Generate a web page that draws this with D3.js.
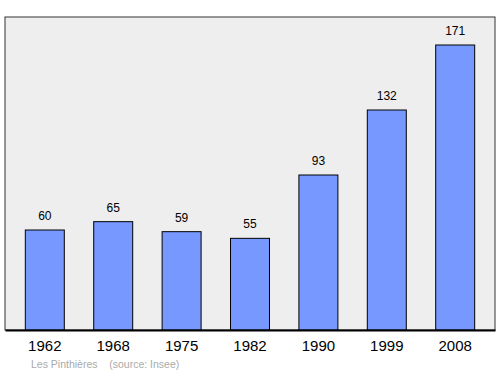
<!DOCTYPE html>
<html>
<head>
<meta charset="utf-8">
<script src="https://cdn.jsdelivr.net/npm/d3@7"></script>
<style>
  body { margin: 0; background: #fff; }
  text { font-family: "Liberation Sans", Arial, sans-serif; }
</style>
</head>
<body>
<div id="chart"></div>
<script>
const years = ["1962", "1968", "1975", "1982", "1990", "1999", "2008"];
const population = [60, 65, 59, 55, 93, 132, 171];
const commune = "Les Pinthières";
const source = "(source: Insee)";

const width = 500, height = 374;
const plot = { left: 5, right: 495, top: 17, bottom: 330 };

const svg = d3.select("#chart").append("svg")
  .attr("width", width)
  .attr("height", height);

// background frame
svg.append("rect")
  .attr("x", plot.left)
  .attr("y", plot.top)
  .attr("width", plot.right - plot.left)
  .attr("height", plot.bottom - plot.top)
  .attr("fill", "#eeeeee")
  .attr("stroke", "#333")
  .attr("stroke-width", 1);

const x = d3.scaleBand()
  .domain(years)
  .range([plot.left, plot.right])
  .paddingInner(0.43)
  .paddingOuter(0.297);

const y = d3.scaleLinear()
  .domain([0, 187.8])
  .range([plot.bottom, plot.top]);

// bars
svg.append("g").selectAll("rect")
  .data(years)
  .enter()
  .append("rect")
  .attr("x", d => x(d))
  .attr("y", (d, i) => y(population[i]))
  .attr("width", x.bandwidth())
  .attr("height", (d, i) => y(0) - y(population[i]))
  .attr("fill", "#7799ff")
  .attr("stroke", "#000")
  .attr("stroke-width", 1);

// values
svg.append("g").selectAll("text")
  .data(years)
  .enter()
  .append("text")
  .attr("x", d => x(d) + x.bandwidth() / 2)
  .attr("y", (d, i) => y(population[i]) - 10)
  .attr("text-anchor", "middle")
  .attr("font-size", 12)
  .attr("fill", "#000")
  .text((d, i) => population[i]);

// x axis
const xAxis = svg.append("g")
  .attr("transform", "translate(0," + plot.bottom + ")")
  .call(d3.axisBottom(x).tickSize(0).tickPadding(10));
xAxis.select(".domain").attr("stroke", "#000").attr("stroke-width", 2);
xAxis.selectAll("text")
  .attr("font-size", 15)
  .attr("font-family", "Liberation Sans, Arial, sans-serif")
  .attr("fill", "#000");

// footer
svg.append("text")
  .attr("x", 31)
  .attr("y", 368)
  .attr("font-size", 10.5)
  .attr("fill", "#aaaaaa")
  .attr("xml:space", "preserve")
  .text(commune + "    " + source);
</script>
</body>
</html>
